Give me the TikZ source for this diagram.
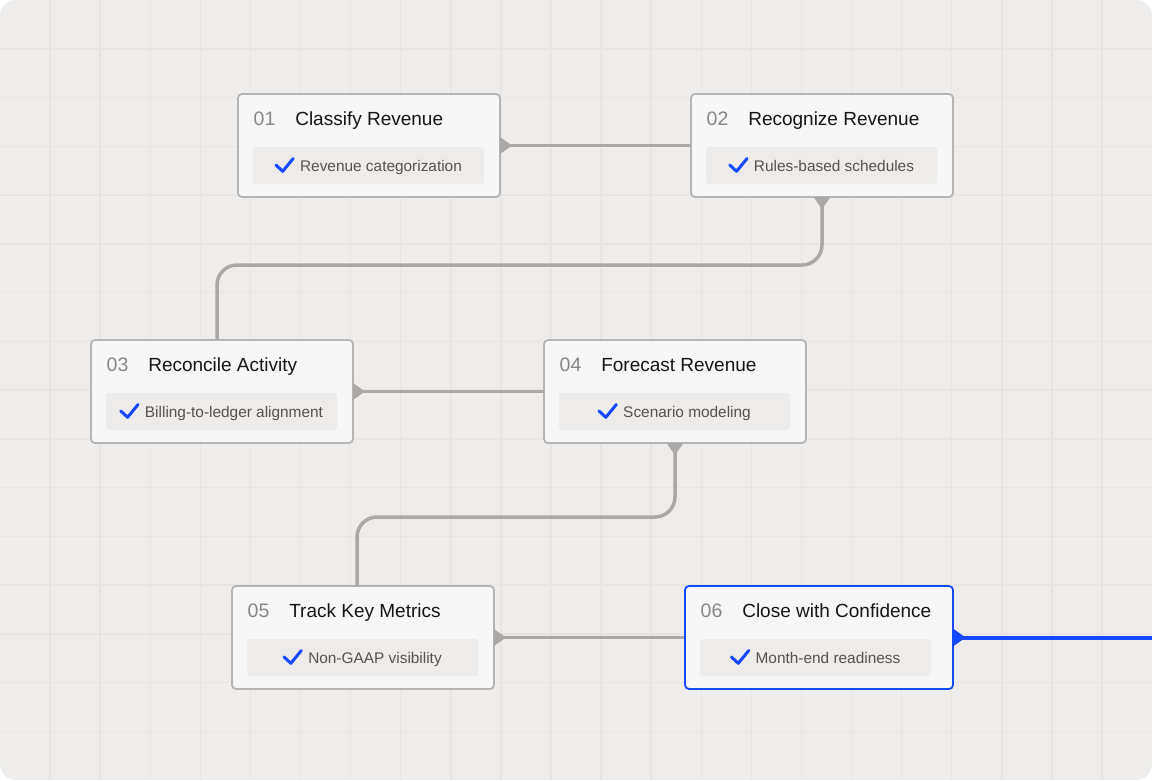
\documentclass[tikz,border=0pt]{standalone}
\usepackage{fontspec}
\setmainfont{Liberation Sans}
\usetikzlibrary{calc}
\definecolor{bgc}{HTML}{EEEDEB}
\definecolor{gridc}{HTML}{E7E5E3}
\definecolor{cardfill}{HTML}{F7F7F7}
\definecolor{cardline}{HTML}{B6B4B2}
\definecolor{subfill}{HTML}{EDECEB}
\definecolor{conncol}{HTML}{ABA9A7}
\definecolor{bluec}{HTML}{1648FF}
\definecolor{numc}{HTML}{898785}
\definecolor{titlec}{HTML}{151515}
\definecolor{subc}{HTML}{555351}
\tikzset{
  card/.style={rectangle, draw=cardline, fill=cardfill, line width=1.8pt, rounded corners=4pt,
    minimum height=103pt, inner sep=0pt, outer sep=0pt},
  bluecard/.style={draw=bluec},
  subbox/.style={rectangle, fill=subfill, rounded corners=3pt, minimum width=231pt,
    minimum height=37pt, inner sep=0pt, outer sep=0pt},
  numtxt/.style={text=numc, inner sep=0pt, font=\fontsize{19.5}{22}\selectfont},
  titletxt/.style={text=titlec, inner sep=0pt, font=\fontsize{19}{22}\selectfont},
  subtxt/.style={text=subc, inner sep=0pt, font=\fontsize{15.4}{18}\selectfont},
  chk/.style={draw=bluec, line width=3pt, line cap=round, line join=round},
  conn/.style={draw=conncol, line width=3.5pt},
  bconn/.style={draw=bluec, line width=4pt},
}
\newcommand\mkcard[8]{%
  \node[card, minimum width=#4, #8, anchor=north west] (#1) at (#2,#3) {};
  \node[subbox, anchor=north west] (#1s) at ($(#1.north west)+(15,53)$) {};
  \node[numtxt, anchor=base west] (#1n) at ($(#1.north west)+(15.5,31)$) {#5};
  \node[titletxt, anchor=base west] (#1t) at ($(#1n.base east)+(19.5,0)$) {#6};
  \node[subtxt, anchor=base] (#1x) at ($(#1s.center)+(0,6)$) {\hspace*{25pt}#7};
  \draw[chk] ($(#1x.base west)+(1,-6.5)$) -- ++(6.8,6.3) -- ++(10.5,-12.8);
}
\begin{document}
\begin{tikzpicture}[x=1pt,y=-1pt]
\useasboundingbox (0,0) rectangle (1152,780);
\fill[white] (0,0) rectangle (1152,780);
\begin{scope}
  \clip[rounded corners=16pt] (0,0) rectangle (1152,780);
  \fill[bgc] (0,0) rectangle (1152,780);
  \foreach \k in {1,...,22} \draw[gridc, line width=1.5pt] ({50.09*\k},0) -- ({50.09*\k},780);
  \foreach \k in {1,...,15} \draw[gridc, line width=1.5pt] (0,{48.75*\k}) -- (1152,{48.75*\k});
\end{scope}

\mkcard{n1}{238}{94}{262}{01}{Classify Revenue}{Revenue categorization}{}
\mkcard{n2}{691}{94}{262}{02}{Recognize Revenue}{Rules-based schedules}{}
\mkcard{n3}{91}{340}{262}{03}{Reconcile Activity}{Billing-to-ledger alignment}{}
\mkcard{n4}{544}{340}{262}{04}{Forecast Revenue}{Scenario modeling}{}
\mkcard{n5}{232}{586}{262}{05}{Track Key Metrics}{Non-GAAP visibility}{}
\mkcard{n6}{685}{586}{268}{06}{Close with Confidence}{Month-end readiness}{bluecard}

\coordinate (rend) at (1152,637.5);

% connectors
\draw[conn] (n1.east) -- (n2.west);
\draw[conn, rounded corners=20pt] (n2.south) -- ++(0,68) -| ($(n3.north)+(-5,0)$);
\draw[conn] (n3.east) -- (n4.west);
\draw[conn, rounded corners=20pt] (n4.south) -- ++(0,74) -| ($(n5.north)+(-6,0)$);
\draw[conn] (n5.east) -- ($(n6.west)+(-1,0)$);
\draw[bconn] (n6.east) -- (rend);

% tail markers
\fill[conncol] (n1.east) ++(0,-8.5) -- ++(12,8.5) -- ++(-12,8.5) -- cycle;
\fill[conncol] (n3.east) ++(0,-8.5) -- ++(12,8.5) -- ++(-12,8.5) -- cycle;
\fill[conncol] (n5.east) ++(0,-8.5) -- ++(12,8.5) -- ++(-12,8.5) -- cycle;
\fill[bluec] (n6.east) ++(0,-9) -- ++(12.5,9) -- ++(-12.5,9) -- cycle;
\fill[conncol] (n2.south) ++(-8.5,0) -- ++(8.5,12) -- ++(8.5,-12) -- cycle;
\fill[conncol] (n4.south) ++(-8.5,0) -- ++(8.5,12) -- ++(8.5,-12) -- cycle;
\end{tikzpicture}
\end{document}
